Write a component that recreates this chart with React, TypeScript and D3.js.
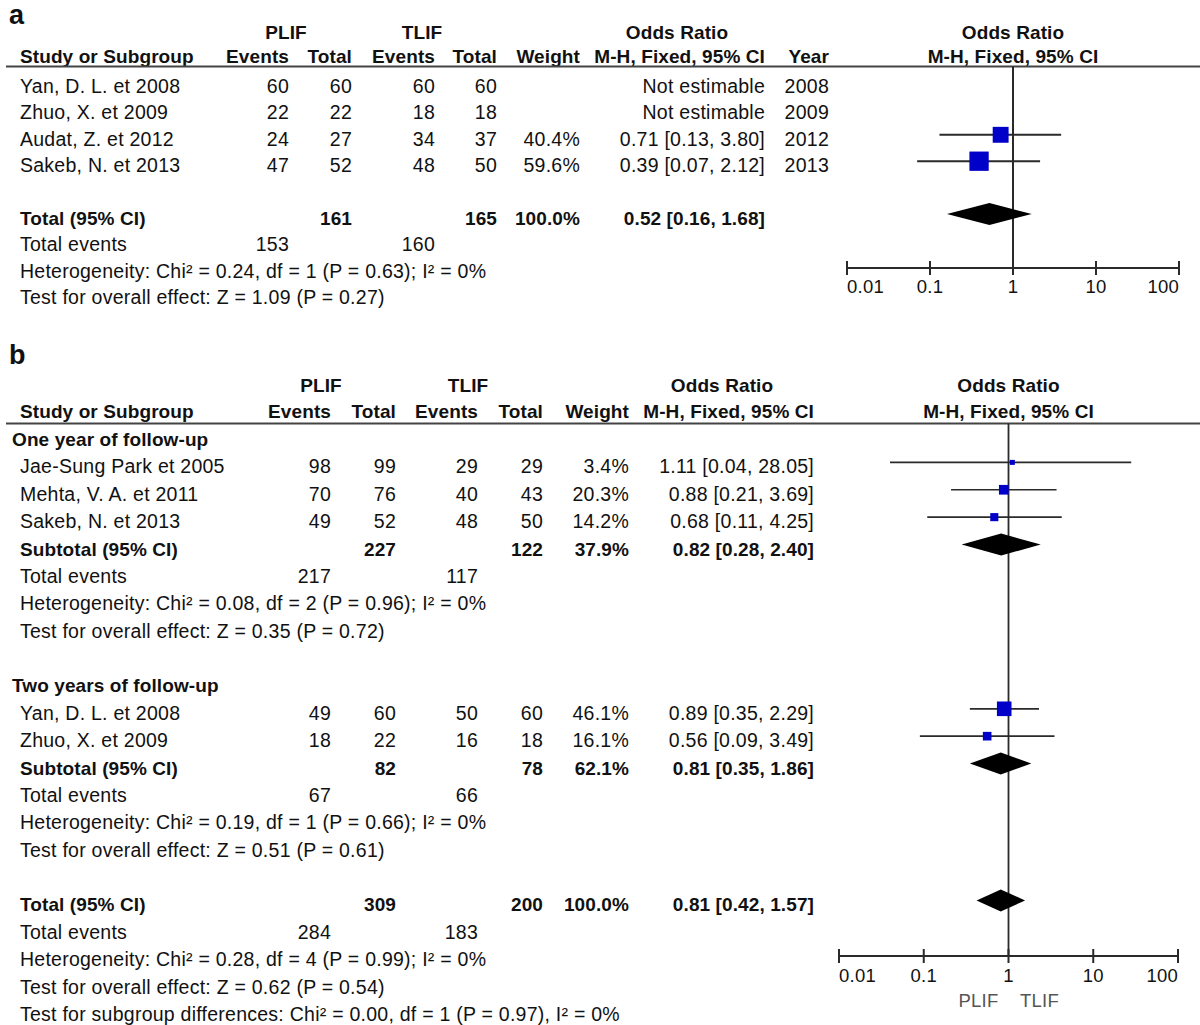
import React from "react";
import * as d3 from "d3";

// ---------- Panel a data ----------
const aStudies = ["Yan, D. L. et 2008", "Zhuo, X. et 2009", "Audat, Z. et 2012", "Sakeb, N. et 2013"];
const aPlifEvents = [60, 22, 24, 47];
const aPlifTotal = [60, 22, 27, 52];
const aTlifEvents = [60, 18, 34, 48];
const aTlifTotal = [60, 18, 37, 50];
const aWeight: (number | null)[] = [null, null, 40.4, 59.6];
const aOR: (number | null)[] = [null, null, 0.71, 0.39];
const aLo: (number | null)[] = [null, null, 0.13, 0.07];
const aHi: (number | null)[] = [null, null, 3.8, 2.12];
const aYear = [2008, 2009, 2012, 2013];
const aTotal = { plifTotal: 161, tlifTotal: 165, weight: 100.0, or: 0.52, lo: 0.16, hi: 1.68, plifEvents: 153, tlifEvents: 160 };
const aHet = "Heterogeneity: Chi² = 0.24, df = 1 (P = 0.63); I² = 0%";
const aTest = "Test for overall effect: Z = 1.09 (P = 0.27)";

// ---------- Panel b data ----------
const bGroupNames = ["One year of follow-up", "Two years of follow-up"];
const bStudies = [
  ["Jae-Sung Park et 2005", "Mehta, V. A. et 2011", "Sakeb, N. et 2013"],
  ["Yan, D. L. et 2008", "Zhuo, X. et 2009"],
];
const bPlifEvents = [[98, 70, 49], [49, 18]];
const bPlifTotal = [[99, 76, 52], [60, 22]];
const bTlifEvents = [[29, 40, 48], [50, 16]];
const bTlifTotal = [[29, 43, 50], [60, 18]];
const bWeight = [[3.4, 20.3, 14.2], [46.1, 16.1]];
const bOR = [[1.11, 0.88, 0.68], [0.89, 0.56]];
const bLo = [[0.04, 0.21, 0.11], [0.35, 0.09]];
const bHi = [[28.05, 3.69, 4.25], [2.29, 3.49]];
const bSubPlifTotal = [227, 82];
const bSubTlifTotal = [122, 78];
const bSubWeight = [37.9, 62.1];
const bSubOR = [0.82, 0.81];
const bSubLo = [0.28, 0.35];
const bSubHi = [2.4, 1.86];
const bSubPlifEvents = [217, 67];
const bSubTlifEvents = [117, 66];
const bSubHet = [
  "Heterogeneity: Chi² = 0.08, df = 2 (P = 0.96); I² = 0%",
  "Heterogeneity: Chi² = 0.19, df = 1 (P = 0.66); I² = 0%",
];
const bSubTest = ["Test for overall effect: Z = 0.35 (P = 0.72)", "Test for overall effect: Z = 0.51 (P = 0.61)"];
const bTotal = { plifTotal: 309, tlifTotal: 200, weight: 100.0, or: 0.81, lo: 0.42, hi: 1.57, plifEvents: 284, tlifEvents: 183 };
const bHet = "Heterogeneity: Chi² = 0.28, df = 4 (P = 0.99); I² = 0%";
const bTest = "Test for overall effect: Z = 0.62 (P = 0.54)";
const bSubgroupTest = "Test for subgroup differences: Chi² = 0.00, df = 1 (P = 0.97), I² = 0%";

const tickValues = [0.01, 0.1, 1, 10, 100];
const tickLabels = ["0.01", "0.1", "1", "10", "100"];
const favoursLabels = ["PLIF", "TLIF"];

const FONT = "'Liberation Sans', Arial, sans-serif";
const FS = 19.5;
const BFS = 19;
const BLUE = "#0000c8";
const LINE = "#2a2a2a";

const fmtCI = (o: number, l: number, h: number) => `${o.toFixed(2)} [${l.toFixed(2)}, ${h.toFixed(2)}]`;
const pct = (w: number) => `${w.toFixed(1)}%`;

function T(props: any) {
  const { x, y, anchor = "start", bold = false, size, fill = "#111", children, ls } = props;
  const fs = size ?? (bold ? BFS : FS);
  const spacing = ls ?? (bold ? 0.1 : 0.25);
  return (
    <text x={x} y={y} textAnchor={anchor} fontFamily={FONT} fontSize={fs} fontWeight={bold ? 700 : 400} fill={fill} letterSpacing={spacing}>
      {children}
    </text>
  );
}

function Diamond({ x, y, lo, hi, or }: any) {
  const p = d3.path();
  p.moveTo(x(lo), y);
  p.lineTo(x(or), y - 11);
  p.lineTo(x(hi), y);
  p.lineTo(x(or), y + 11);
  p.closePath();
  return <path d={p.toString()} fill="#000" />;
}

function Study({ x, y, or, lo, hi, w, k, sw }: any) {
  const s = Math.max(5, k * Math.sqrt(w));
  return (
    <g>
      <line x1={x(lo)} x2={x(hi)} y1={y} y2={y} stroke={LINE} strokeWidth={sw} />
      <rect x={x(or) - s / 2} y={y - s / 2} width={s} height={s} fill={BLUE} />
    </g>
  );
}

function Axis({ x, y, labelY }: any) {
  const [r0, r1] = x.range();
  const n = tickValues.length;
  return (
    <g>
      <line x1={r0} x2={r1} y1={y} y2={y} stroke={LINE} strokeWidth={2} />
      {tickValues.map((v, i) => (
        <g key={i}>
          <line x1={x(v)} x2={x(v)} y1={y - 7} y2={y + 7} stroke={LINE} strokeWidth={2} />
          <T x={x(v)} y={labelY} anchor={i === 0 ? "start" : i === n - 1 ? "end" : "middle"} size={18.5}>
            {tickLabels[i]}
          </T>
        </g>
      ))}
    </g>
  );
}

function PanelA() {
  const x = d3.scaleLog().domain([0.01, 100]).range([847, 1179]);
  const rowY = d3.scaleLinear().domain([0, 1]).range([93, 119.4]);
  const col = { evP: 289, totP: 352, evT: 435, totT: 497, w: 580, ci: 765, yr: 829 };
  const x1 = x(1);
  return (
    <g>
      <T x={9} y={24} bold size={27} ls={0}>a</T>
      <T x={286} y={39} anchor="middle" bold>PLIF</T>
      <T x={422} y={39} anchor="middle" bold>TLIF</T>
      <T x={677} y={39} anchor="middle" bold>Odds Ratio</T>
      <T x={x1} y={39} anchor="middle" bold>Odds Ratio</T>
      <T x={20} y={63} bold>Study or Subgroup</T>
      <T x={col.evP} y={63} anchor="end" bold>Events</T>
      <T x={col.totP} y={63} anchor="end" bold>Total</T>
      <T x={col.evT} y={63} anchor="end" bold>Events</T>
      <T x={col.totT} y={63} anchor="end" bold>Total</T>
      <T x={col.w} y={63} anchor="end" bold>Weight</T>
      <T x={col.ci} y={63} anchor="end" bold>M-H, Fixed, 95% CI</T>
      <T x={col.yr} y={63} anchor="end" bold>Year</T>
      <T x={x1} y={63} anchor="middle" bold>M-H, Fixed, 95% CI</T>
      <line x1={6} x2={1200} y1={66.5} y2={66.5} stroke="#444" strokeWidth={2} />
      <line x1={x1} x2={x1} y1={66.5} y2={268} stroke={LINE} strokeWidth={2} />
      {aStudies.map((s, i) => {
        const y = rowY(i);
        return (
          <g key={i}>
            <T x={20} y={y}>{s}</T>
            <T x={col.evP} y={y} anchor="end">{aPlifEvents[i]}</T>
            <T x={col.totP} y={y} anchor="end">{aPlifTotal[i]}</T>
            <T x={col.evT} y={y} anchor="end">{aTlifEvents[i]}</T>
            <T x={col.totT} y={y} anchor="end">{aTlifTotal[i]}</T>
            {aWeight[i] != null && <T x={col.w} y={y} anchor="end">{pct(aWeight[i] as number)}</T>}
            <T x={col.ci} y={y} anchor="end">
              {aOR[i] != null ? fmtCI(aOR[i] as number, aLo[i] as number, aHi[i] as number) : "Not estimable"}
            </T>
            <T x={col.yr} y={y} anchor="end">{aYear[i]}</T>
            {aOR[i] != null && (
              <Study x={x} y={y - 11} or={aOR[i]} lo={aLo[i]} hi={aHi[i]} w={aWeight[i]} k={2.5} sw={2} />
            )}
          </g>
        );
      })}
      <T x={20} y={rowY(5)} bold>Total (95% CI)</T>
      <T x={col.totP} y={rowY(5)} anchor="end" bold>{aTotal.plifTotal}</T>
      <T x={col.totT} y={rowY(5)} anchor="end" bold>{aTotal.tlifTotal}</T>
      <T x={col.w} y={rowY(5)} anchor="end" bold>{pct(aTotal.weight)}</T>
      <T x={col.ci} y={rowY(5)} anchor="end" bold>{fmtCI(aTotal.or, aTotal.lo, aTotal.hi)}</T>
      <Diamond x={x} y={rowY(5) - 11} lo={aTotal.lo} hi={aTotal.hi} or={aTotal.or} />
      <T x={20} y={rowY(6)}>Total events</T>
      <T x={col.evP} y={rowY(6)} anchor="end">{aTotal.plifEvents}</T>
      <T x={col.evT} y={rowY(6)} anchor="end">{aTotal.tlifEvents}</T>
      <T x={20} y={rowY(7)}>{aHet}</T>
      <T x={20} y={rowY(8)}>{aTest}</T>
      <Axis x={x} y={268} labelY={293} />
    </g>
  );
}

function PanelB() {
  const x = d3.scaleLog().domain([0.01, 100]).range([839, 1178]);
  const rowY = d3.scaleLinear().domain([0, 1]).range([446, 473.38]);
  const col = { evP: 331, totP: 396, evT: 478, totT: 543, w: 629, ci: 814 };
  const x1 = x(1);
  const rows: any[] = [];
  let r = 0;
  bGroupNames.forEach((g, gi) => {
    rows.push(<T key={`g${gi}`} x={12} y={rowY(r)} bold>{g}</T>);
    r++;
    bStudies[gi].forEach((s, i) => {
      const y = rowY(r);
      rows.push(
        <g key={`s${gi}-${i}`}>
          <T x={20} y={y}>{s}</T>
          <T x={col.evP} y={y} anchor="end">{bPlifEvents[gi][i]}</T>
          <T x={col.totP} y={y} anchor="end">{bPlifTotal[gi][i]}</T>
          <T x={col.evT} y={y} anchor="end">{bTlifEvents[gi][i]}</T>
          <T x={col.totT} y={y} anchor="end">{bTlifTotal[gi][i]}</T>
          <T x={col.w} y={y} anchor="end">{pct(bWeight[gi][i])}</T>
          <T x={col.ci} y={y} anchor="end">{fmtCI(bOR[gi][i], bLo[gi][i], bHi[gi][i])}</T>
          <Study x={x} y={y - 11} or={bOR[gi][i]} lo={bLo[gi][i]} hi={bHi[gi][i]} w={bWeight[gi][i]} k={2.15} sw={1.7} />
        </g>
      );
      r++;
    });
    const ys = rowY(r);
    rows.push(
      <g key={`sub${gi}`}>
        <T x={20} y={ys} bold>Subtotal (95% CI)</T>
        <T x={col.totP} y={ys} anchor="end" bold>{bSubPlifTotal[gi]}</T>
        <T x={col.totT} y={ys} anchor="end" bold>{bSubTlifTotal[gi]}</T>
        <T x={col.w} y={ys} anchor="end" bold>{pct(bSubWeight[gi])}</T>
        <T x={col.ci} y={ys} anchor="end" bold>{fmtCI(bSubOR[gi], bSubLo[gi], bSubHi[gi])}</T>
        <Diamond x={x} y={ys - 11} lo={bSubLo[gi]} hi={bSubHi[gi]} or={bSubOR[gi]} />
        <T x={20} y={rowY(r + 1)}>Total events</T>
        <T x={col.evP} y={rowY(r + 1)} anchor="end">{bSubPlifEvents[gi]}</T>
        <T x={col.evT} y={rowY(r + 1)} anchor="end">{bSubTlifEvents[gi]}</T>
        <T x={20} y={rowY(r + 2)}>{bSubHet[gi]}</T>
        <T x={20} y={rowY(r + 3)}>{bSubTest[gi]}</T>
      </g>
    );
    r += 5;
  });
  const yt = rowY(r);
  return (
    <g>
      <T x={9} y={364} bold size={27} ls={0}>b</T>
      <T x={321} y={392} anchor="middle" bold>PLIF</T>
      <T x={468} y={392} anchor="middle" bold>TLIF</T>
      <T x={722} y={392} anchor="middle" bold>Odds Ratio</T>
      <T x={x1} y={392} anchor="middle" bold>Odds Ratio</T>
      <T x={20} y={418} bold>Study or Subgroup</T>
      <T x={col.evP} y={418} anchor="end" bold>Events</T>
      <T x={col.totP} y={418} anchor="end" bold>Total</T>
      <T x={col.evT} y={418} anchor="end" bold>Events</T>
      <T x={col.totT} y={418} anchor="end" bold>Total</T>
      <T x={col.w} y={418} anchor="end" bold>Weight</T>
      <T x={col.ci} y={418} anchor="end" bold>M-H, Fixed, 95% CI</T>
      <T x={x1} y={418} anchor="middle" bold>M-H, Fixed, 95% CI</T>
      <line x1={6} x2={1200} y1={423.5} y2={423.5} stroke="#444" strokeWidth={2} />
      <line x1={x1} x2={x1} y1={423.5} y2={956} stroke={LINE} strokeWidth={1.8} />
      {rows}
      <T x={20} y={yt} bold>Total (95% CI)</T>
      <T x={col.totP} y={yt} anchor="end" bold>{bTotal.plifTotal}</T>
      <T x={col.totT} y={yt} anchor="end" bold>{bTotal.tlifTotal}</T>
      <T x={col.w} y={yt} anchor="end" bold>{pct(bTotal.weight)}</T>
      <T x={col.ci} y={yt} anchor="end" bold>{fmtCI(bTotal.or, bTotal.lo, bTotal.hi)}</T>
      <Diamond x={x} y={yt - 11} lo={bTotal.lo} hi={bTotal.hi} or={bTotal.or} />
      <T x={20} y={rowY(r + 1)}>Total events</T>
      <T x={col.evP} y={rowY(r + 1)} anchor="end">{bTotal.plifEvents}</T>
      <T x={col.evT} y={rowY(r + 1)} anchor="end">{bTotal.tlifEvents}</T>
      <T x={20} y={rowY(r + 2)}>{bHet}</T>
      <T x={20} y={rowY(r + 3)}>{bTest}</T>
      <T x={20} y={rowY(r + 4)}>{bSubgroupTest}</T>
      <Axis x={x} y={956} labelY={982} />
      <T x={x1 - 30} y={1007} anchor="middle" fill="#555" size={18.5}>{favoursLabels[0]}</T>
      <T x={x1 + 31} y={1007} anchor="middle" fill="#555" size={18.5}>{favoursLabels[1]}</T>
    </g>
  );
}

export default function App() {
  return (
    <svg width={1200} height={1025} style={{ position: "absolute", left: 0, top: 0, background: "#fff" }}>
      <rect width={1200} height={1025} fill="#fff" />
      <PanelA />
      <PanelB />
    </svg>
  );
}
